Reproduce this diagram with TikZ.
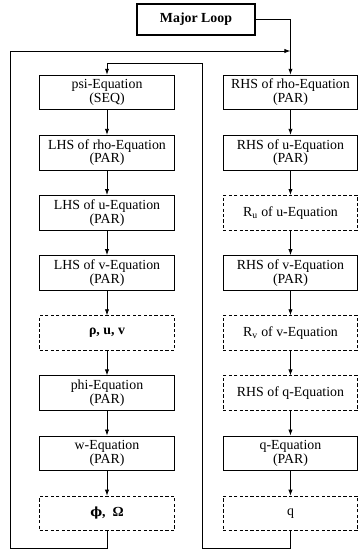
\documentclass[tikz,border=0pt]{standalone}
\usepackage{fontspec}
\setmainfont{Liberation Serif}
\newfontfamily\grkfont{DejaVu Serif}
\usetikzlibrary{arrows.meta, positioning}

\tikzset{
  blk/.style={draw, line width=0.6pt, minimum width=101pt, minimum height=26pt,
    align=center, inner sep=1pt, font=\fontsize{10.4}{9.4}\selectfont},
  dblk/.style={blk, dash pattern=on 2.5pt off 1.6pt},
  flow/.style={-{Latex[length=4.5pt,width=3.2pt]}, line width=0.6pt},
}

\begin{document}
\begin{tikzpicture}[x=0.75pt, y=-0.75pt, node distance=18.5pt]
          \useasboundingbox (0,0) rectangle (358,550);

          \node (major) [blk, line width=1.3pt, minimum width=88pt, minimum height=23pt,
            font=\fontsize{10.4}{12}\selectfont\bfseries] at (196,19.5) {Major Loop};

          % left column
          \node (psi) [blk] at (107,92.5) {psi-Equation\\(SEQ)};
          \node (lrho) [blk, below = of psi] {LHS of rho-Equation\\(PAR)};
          \node (lu) [blk, below = of lrho] {LHS of u-Equation\\(PAR)};
          \node (lv) [blk, below = of lu] {LHS of v-Equation\\(PAR)};
          \node (ruv) [dblk, below = of lv, font=\fontsize{10.4}{12}\selectfont\bfseries] {ρ, u, v};
          \node (phi) [blk, below = of ruv] {phi-Equation\\(PAR)};
          \node (w) [blk, below = of phi] {w-Equation\\(PAR)};
          \node (phiom) [dblk, below = of w, font=\fontsize{10.4}{12}\selectfont\bfseries] {{\grkfont\fontsize{9.5}{12}\selectfont ϕ},\ \ Ω};

          % right column
          \node (rrho) [blk, right = 36pt of psi] {RHS of rho-Equation\\(PAR)};
          \node (ru) [blk, below = of rrho] {RHS of u-Equation\\(PAR)};
          \node (resu) [dblk, below = of ru] {R\textsubscript{u} of u-Equation};
          \node (rv) [blk, below = of resu] {RHS of v-Equation\\(PAR)};
          \node (resv) [dblk, below = of rv] {R\textsubscript{v} of v-Equation};
          \node (rq) [dblk, below = of resv] {RHS of q-Equation};
          \node (q) [blk, below = of rq] {q-Equation\\(PAR)};
          \node (qval) [dblk, below = of q] {q};

          \coordinate (botL) at (10,548);
          \coordinate (topL) at (10,51);
          \coordinate (botR) at (202,548);
          \coordinate (topR) at (202,63);

          \draw [flow] (major.east) -| (rrho.north);
          \draw [flow] (phiom.south) |- (botL) |- (rrho.north |- topL);
          \draw [flow] (qval.south) |- (botR) |- (psi.north |- topR) -- (psi.north);

          \foreach \a/\b in {psi/lrho, lrho/lu, lu/lv, lv/ruv, ruv/phi, phi/w, w/phiom,
                             rrho/ru, ru/resu, resu/rv, rv/resv, resv/rq, rq/q, q/qval}
              \draw [flow] (\a) -- (\b);
      \end{tikzpicture}
\end{document}
